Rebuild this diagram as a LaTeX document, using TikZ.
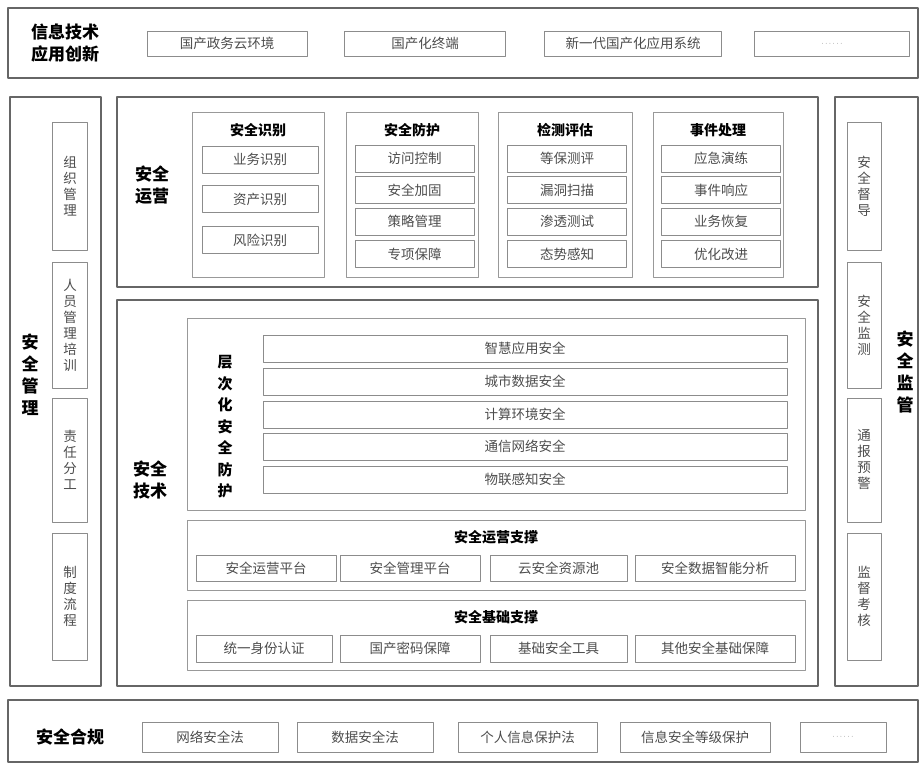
\documentclass[tikz,border=0pt]{standalone}
\usepackage{fontspec}
\setmainfont{Noto Sans CJK SC}
\usetikzlibrary{positioning}
\newcommand{\dd}{{\scriptsize$\cdots\cdots$}}
\begin{document}
\begin{tikzpicture}[x=1pt, y=-1pt, line join=round,
	frame/.style={draw=black!60, line width=1.3pt, inner sep=0pt},
	group/.style={draw=black!40, line width=0.9pt, inner sep=0pt},
	item/.style={draw=black!45, line width=0.8pt, inner sep=0pt, text=black!70, font=\fontsize{13.5}{16}\selectfont},
	vitem/.style={item, align=center, minimum width=35},
	title/.style={inner sep=0pt, align=center, font=\fontsize{17}{22}\selectfont\bfseries},
	head/.style={inner sep=0pt, font=\fontsize{14}{16}\selectfont\bfseries}]
	\useasboundingbox (0,0) rectangle (922,767);
	%Khung ngoài
	\node[frame, minimum width=910, minimum height=70] (xc) at (463,43) {};
	\node[frame, minimum width=91, minimum height=589] (gl) at (55.5,391.5) {};
	\node[frame, minimum width=701, minimum height=190] (yy) at (467.5,192) {};
	\node[frame, minimum width=701, minimum height=386] (js) at (467.5,493) {};
	\node[frame, minimum width=83, minimum height=589] (jg) at (876.5,391.5) {};
	\node[frame, minimum width=910, minimum height=62] (hg) at (463,731) {};
	%Tiêu đề
	\node[title] (xcT) at (65,43) {信息技术\\应用创新};
	\node[title] (glT) at (30,375) {安\\全\\管\\理};
	\node[title] (yyT) at (152,185) {安全\\运营};
	\node[title] (jsT) at (150,480) {安全\\技术};
	\node[title] (jgT) at (905,372) {安\\全\\监\\管};
	\node[title] (hgT) at (70,737) {安全合规};
	%Hàng trên
	\foreach \x/\w/\t [count=\i] in {227/160/国产政务云环境, 425/161/国产化终端, 633/177/新一代国产化应用系统, 832/155/\dd}
	\node[item, minimum width=\w, minimum height=25] (top\i) at (\x,43.5) {\t};
	%Hàng dưới
	\foreach \x/\w/\t [count=\i] in {210/136/网络安全法, 365/136/数据安全法, 527.5/139/个人信息保护法, 695/150/信息安全等级保护, 843/86/\dd}
	\node[item, minimum width=\w, minimum height=30] (bot\i) at (\x,737) {\t};
	%Cột trái, cột phải
	\foreach \y/\h/\t [count=\i] in {186/128/组\\织\\管\\理, 325/126/人\\员\\管\\理\\培\\训, 460/124/责\\任\\分\\工, 596.5/127/制\\度\\流\\程}
	\node[vitem, minimum height=\h] (gl\i) at (70,\y) {\t};
	\foreach \y/\h/\t [count=\i] in {186/128/安\\全\\督\\导, 325/126/安\\全\\监\\测, 460/124/通\\报\\预\\警, 596.5/127/监\\督\\考\\核}
	\node[vitem, minimum width=34, minimum height=\h] (jg\i) at (864,\y) {\t};
	%安全运营
	\foreach \x/\w/\t [count=\i] in {258/132/安全识别, 412/132/安全防护, 565/134/检测评估, 718/130/事件处理}{
		\node[group, minimum width=\w, minimum height=165] (op\i) at (\x,194.5) {};
		\node[head] (op\i T) at (\x,130) {\t};
	}
	\foreach \y/\t [count=\i] in {159.5/业务识别, 199/资产识别, 240/风险识别}
	\node[item, minimum width=116, minimum height=27] (sb\i) at (260,\y) {\t};
	\foreach \c/\a/\b/\d/\e [count=\j] in {414.5/访问控制/安全加固/策略管理/专项保障, 567/等保测评/漏洞扫描/渗透测试/态势感知, 721/应急演练/事件响应/业务恢复/优化改进}{
		\node[item, minimum width=119, minimum height=27] (op\j a) at (\c,158.5) {\a};
		\node[item, minimum width=119, minimum height=27] (op\j b) at (\c,190) {\b};
		\node[item, minimum width=119, minimum height=27] (op\j c) at (\c,221.5) {\d};
		\node[item, minimum width=119, minimum height=27] (op\j d) at (\c,254) {\e};
	}
	%安全技术
	\node[group, minimum width=618, minimum height=192] (cc) at (496,414) {};
	\node[head, align=center, font=\fontsize{15}{21.5}\selectfont\bfseries] (ccT) at (225,427) {层\\次\\化\\安\\全\\防\\护};
	\foreach \y/\t [count=\i] in {348.5/智慧应用安全, 381.5/城市数据安全, 414.5/计算环境安全, 446.5/通信网络安全, 479.5/物联感知安全}
	\node[item, minimum width=524, minimum height=27] (cc\i) at (525,\y) {\t};
	\node[group, minimum width=618, minimum height=70] (zc) at (496,555) {};
	\node[head] (zcT) at (496,537) {安全运营支撑};
	\node[group, minimum width=618, minimum height=70] (jc) at (496,635) {};
	\node[head] (jcT) at (496,617) {安全基础支撑};
	\foreach \x/\w/\t [count=\i] in {266/140/安全运营平台, 410/140/安全管理平台, 558.5/137/云安全资源池, 715/160/安全数据智能分析}
	\node[item, minimum width=\w, minimum height=26] (zc\i) at (\x,568) {\t};
	\foreach \x/\w/\t [count=\i] in {264/136/统一身份认证, 410/140/国产密码保障, 558.5/137/基础安全工具, 715/160/其他安全基础保障}
	\node[item, minimum width=\w, minimum height=27] (jc\i) at (\x,648.5) {\t};
\end{tikzpicture}
\end{document}
